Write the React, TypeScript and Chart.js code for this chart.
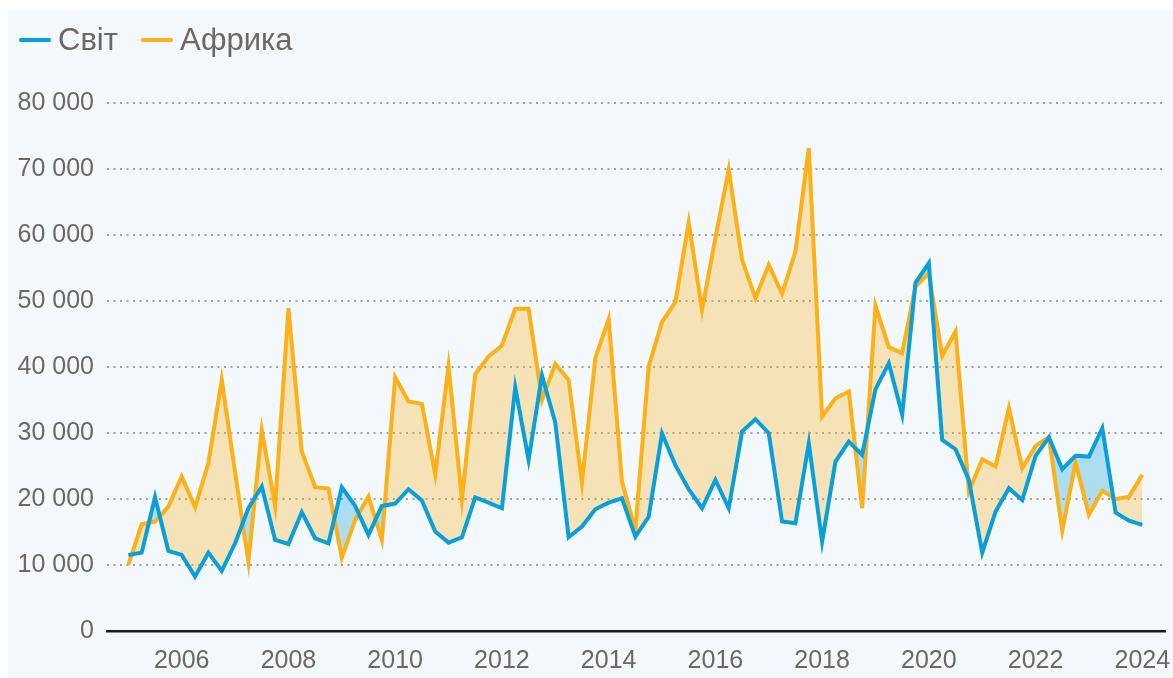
import React, { useEffect, useRef } from "react";
import { Chart, registerables } from "chart.js";

Chart.register(...registerables);

// Quarterly observations, 2005 Q1 … 2024 Q1 (77 quarters)
const WORLD = [
  11520, 11870, 20250, 12120, 11520, 8230, 11870, 9090,
  13280, 18590, 21870, 13790, 13180, 17980, 14040, 13280,
  21770, 18940, 14550, 18940, 19300, 21470, 19750, 15050,
  13380, 14190, 20250, 19440, 18590, 36870, 25910, 38690,
  31570, 14190, 15810, 18430, 19440, 20100, 14290, 17300,
  29900, 25100, 21470, 18590, 22880, 18590, 30200, 32070,
  29950, 16570, 16310, 28430, 13540, 25660, 28690, 26670,
  36620, 40550, 32800, 52730, 55710, 28940, 27530, 22880,
  11870, 18080, 21620, 19850, 26520, 29340, 24500, 26520,
  26410, 30710, 17930, 16710, 16060,
];
const AFRICA = [
  10000, 16160, 16570, 18840, 23390, 18740, 25400, 38030,
  24000, 10500, 30450, 18940, 48890, 27170, 21770, 21570,
  11110, 16820, 20350, 13790, 38430, 34750, 34390, 23740,
  40050, 19950, 38890, 41570, 43230, 48790, 48790, 35000,
  40450, 38030, 22470, 41310, 47220, 22630, 15300, 40050,
  46800, 49800, 61870, 48640, 59500, 69850, 56210, 50410,
  55450, 51060, 57470, 73130, 32470, 35250, 36260, 18590,
  49240, 42980, 42070, 52170, 54190, 41670, 45350, 21110,
  26010, 24900, 33740, 24650, 28030, 29340, 15200, 25510,
  17580, 21260, 19950, 20350, 23640,
];
const SERIES_NAMES = ["Світ", "Африка"];
const YEAR_TICK_INDEX = [4, 12, 20, 28, 36, 44, 52, 60, 68, 76];
const YEAR_TICK_LABELS = ["2006", "2008", "2010", "2012", "2014", "2016", "2018", "2020", "2022", "2024"];
const Y_TICKS = [0, 10000, 20000, 30000, 40000, 50000, 60000, 70000, 80000];

const BLUE = "#0a9fd8";
const ORANGE = "#fbb117";
const TEXT = "#6e6762";
const TICK_FONT = "'Liberation Sans', Arial, sans-serif";

const fmt = (v: number) => String(v).replace(/\B(?=(\d{3})+(?!\d))/g, " ");

export default function App() {
  const ref = useRef<HTMLCanvasElement | null>(null);

  useEffect(() => {
    const canvas = ref.current;
    if (!canvas) return;
    const toPts = (arr: number[]) => arr.map((v, i) => ({ x: i, y: v }));
    const chart = new Chart(canvas, {
      type: "line",
      data: {
        datasets: [
          {
            label: SERIES_NAMES[0],
            data: toPts(WORLD),
            borderColor: BLUE,
            backgroundColor: BLUE,
            borderWidth: 4,
            pointRadius: 0,
            tension: 0,
            fill: false,
          },
          {
            label: SERIES_NAMES[1],
            data: toPts(AFRICA),
            borderColor: ORANGE,
            backgroundColor: ORANGE,
            borderWidth: 4,
            pointRadius: 0,
            tension: 0,
            fill: {
              target: 0,
              above: "rgba(251,177,23,0.3)",
              below: "rgba(10,160,216,0.3)",
            },
          },
        ],
      },
      options: {
        animation: false,
        responsive: false,
        devicePixelRatio: 1,
        layout: { padding: { left: 0, right: 8, top: 92.7, bottom: 0 } },
        plugins: {
          legend: { display: false },
          tooltip: { enabled: false },
        },
        scales: {
          x: {
            type: "linear",
            min: -1.6,
            max: 77.7,
            grid: { display: false, drawTicks: false, tickLength: 0 },
            border: { display: true, color: "#1a1a1a", width: 2.5 },
            afterBuildTicks: (s: any) => {
              s.ticks = YEAR_TICK_INDEX.map((v) => ({ value: v }));
            },
            afterFit: (s: any) => {
              s.height = 47;
              s.paddingLeft = 0;
              s.paddingRight = 0;
            },
            ticks: {
              autoSkip: false,
              maxRotation: 0,
              padding: 15,
              color: TEXT,
              font: { family: TICK_FONT, size: 25 },
              callback: (v: any) => {
                const k = YEAR_TICK_INDEX.indexOf(Number(v));
                return k >= 0 ? YEAR_TICK_LABELS[k] : "";
              },
            },
          },
          y: {
            min: 0,
            max: 80000,
            afterBuildTicks: (s: any) => {
              s.ticks = Y_TICKS.map((v) => ({ value: v }));
            },
            afterFit: (s: any) => {
              s.width = 99;
              s.paddingTop = 0;
              s.paddingBottom = 0;
            },
            grid: {
              drawTicks: false,
              tickLength: 0,
              lineWidth: 2,
              color: (c: any) => (c.tick && c.tick.value === 0 ? "rgba(0,0,0,0)" : "#a7a19d"),
            },
            border: { display: false, dash: [2, 4.5] },
            ticks: {
              padding: 13,
              color: TEXT,
              font: { family: TICK_FONT, size: 25 },
              callback: (v: any) => fmt(Number(v)),
            },
          },
        },
      },
    } as any);
    return () => chart.destroy();
  }, []);

  const legendItem = (name: string, color: string, ml: number) => (
    <div key={name} style={{ display: "flex", alignItems: "center", marginLeft: ml }}>
      <span style={{ display: "inline-block", width: 32, height: 4, background: color, borderRadius: 2, marginRight: 7 }} />
      <span style={{ color: TEXT, fontSize: 31, lineHeight: "40px" }}>{name}</span>
    </div>
  );

  return (
    <div
      style={{
        position: "fixed",
        left: 8,
        top: 10,
        width: 1165,
        height: 668,
        background: "#f3f8fc",
        fontFamily: "'Liberation Sans', Arial, sans-serif",
        overflow: "hidden",
      }}
    >
      <div style={{ position: "absolute", left: 11, top: 10, height: 40, display: "flex", alignItems: "center" }}>
        {legendItem(SERIES_NAMES[0], BLUE, 0)}
        {legendItem(SERIES_NAMES[1], ORANGE, 23)}
      </div>
      <canvas ref={ref} width={1165} height={668} style={{ display: "block" }} />
    </div>
  );
}
